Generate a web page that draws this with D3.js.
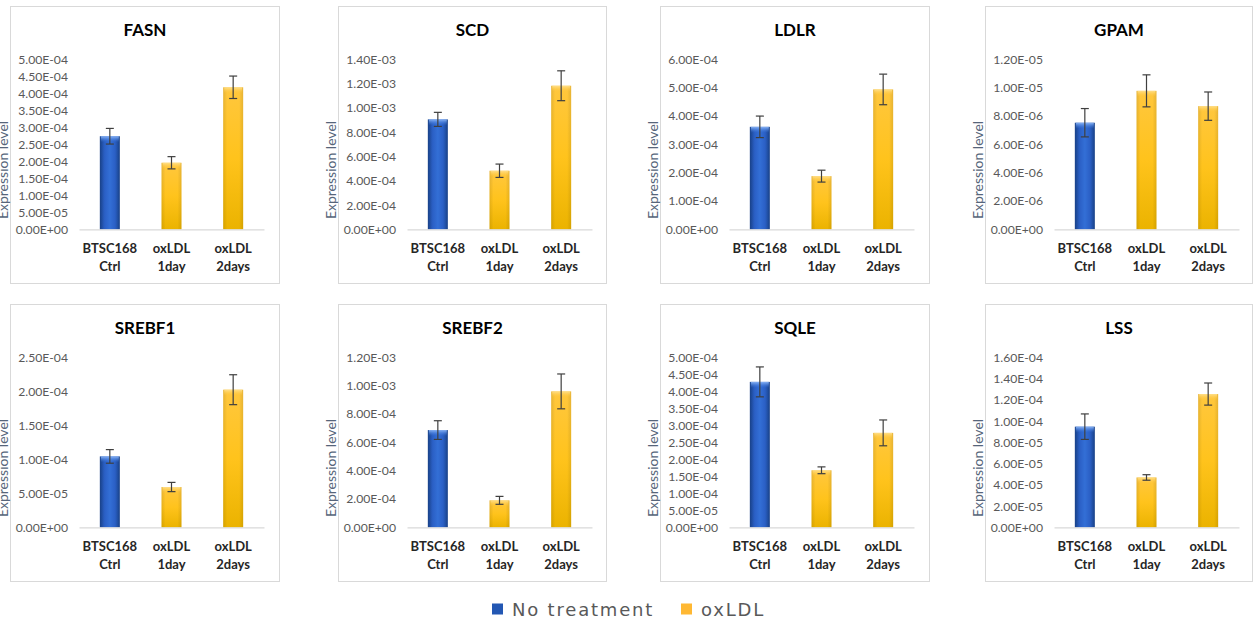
<!DOCTYPE html>
<html>
<head>
<meta charset="utf-8">
<script src="https://cdn.jsdelivr.net/npm/d3@7/dist/d3.min.js"></script>
<style>
  html, body { margin: 0; padding: 0; background: #ffffff; }
  svg { display: block; }
</style>
</head>
<body>
<svg id="chart" width="1254" height="623"></svg>
<script>
// Gene panels, in reading order (two rows of four)
const genes = ["FASN", "SCD", "LDLR", "GPAM", "SREBF1", "SREBF2", "SQLE", "LSS"];

// Sample groups on the x axis (two text lines each)
const groupLine1 = ["BTSC168", "oxLDL", "oxLDL"];
const groupLine2 = ["Ctrl", "1day", "2days"];
const groupSeries = ["No treatment", "oxLDL", "oxLDL"];

// Mean expression level per group
const fasnMean   = [2.74e-4, 1.96e-4, 4.18e-4];
const scdMean    = [9.06e-4, 4.83e-4, 1.183e-3];
const ldlrMean   = [3.62e-4, 1.88e-4, 4.94e-4];
const gpamMean   = [7.53e-6, 9.78e-6, 8.70e-6];
const srebf1Mean = [1.044e-4, 5.94e-5, 2.025e-4];
const srebf2Mean = [6.87e-4, 1.91e-4, 9.60e-4];
const sqleMean   = [4.28e-4, 1.68e-4, 2.78e-4];
const lssMean    = [9.48e-5, 4.70e-5, 1.255e-4];

// Error (± half-length of the error bar)
const fasnErr   = [2.3e-5, 1.8e-5, 3.3e-5];
const scdErr    = [5.8e-5, 5.5e-5, 1.23e-4];
const ldlrErr   = [3.8e-5, 2.1e-5, 5.4e-5];
const gpamErr   = [1.0e-6, 1.13e-6, 1.0e-6];
const srebf1Err = [1.0e-5, 6.8e-6, 2.2e-5];
const srebf2Err = [6.6e-5, 2.8e-5, 1.23e-4];
const sqleErr   = [4.4e-5, 1.0e-5, 3.8e-5];
const lssErr    = [1.2e-5, 2.6e-6, 1.04e-5];

// Y-axis extent and tick step per panel
const axisMax  = [5e-4, 1.4e-3, 6e-4, 1.2e-5, 2.5e-4, 1.2e-3, 5e-4, 1.6e-4];
const axisStep = [5e-5, 2e-4, 1e-4, 2e-6, 5e-5, 2e-4, 5e-5, 2e-5];

const legendLabels = ["No treatment", "oxLDL"];

const meanTable = [fasnMean, scdMean, ldlrMean, gpamMean, srebf1Mean, srebf2Mean, sqleMean, lssMean];
const errTable  = [fasnErr, scdErr, ldlrErr, gpamErr, srebf1Err, srebf2Err, sqleErr, lssErr];

// ---- layout ----
const panelLeft  = [10, 338, 660, 985];
const panelWidth = [270, 269, 270, 268];
const panelTop   = [6, 304];
const panelH = 277;
const plotLeft = 69, plotTop = 53.4, plotW = 185, plotH = 170;

const FONT = "Lato, 'Open Sans', sans-serif";
const svg = d3.select("#chart");

// Gradients for the bevelled bar look
const defs = svg.append("defs");
function hGrad(id, stops) {
  const g = defs.append("linearGradient").attr("id", id)
    .attr("x1", "0").attr("y1", "0").attr("x2", "1").attr("y2", "0");
  stops.forEach(([o, c, a]) => g.append("stop").attr("offset", o).attr("stop-color", c).attr("stop-opacity", a == null ? 1 : a));
}
function vGrad(id, stops) {
  const g = defs.append("linearGradient").attr("id", id)
    .attr("x1", "0").attr("y1", "0").attr("x2", "0").attr("y2", "1");
  stops.forEach(([o, c, a]) => g.append("stop").attr("offset", o).attr("stop-color", c).attr("stop-opacity", a == null ? 1 : a));
}
hGrad("blueBody", [["0", "#1b4896"], ["0.25", "#2b60c6"], ["0.5", "#336fd6"], ["0.75", "#2b60c6"], ["1", "#1b4896"]]);
vGrad("yellowBody", [["0", "#ffc73e"], ["0.5", "#ffc31c"], ["1", "#ebb300"]]);
hGrad("edgeShade", [["0", "#000", 0.10], ["0.2", "#000", 0.0], ["0.8", "#000", 0.0], ["1", "#000", 0.10]]);
vGrad("blueCap", [["0", "#8ab4f5"], ["1", "#3a76dc", 0]]);
vGrad("yellowCap", [["0", "#ffdf8a"], ["1", "#ffc73e", 0]]);

const seriesFill = { "No treatment": "url(#blueBody)", "oxLDL": "url(#yellowBody)" };
const seriesCap  = { "No treatment": "url(#blueCap)", "oxLDL": "url(#yellowCap)" };

function fmtE(v) {
  const [m, e] = v.toExponential(2).split("e");
  const n = +e;
  return m.toUpperCase() + "E" + (n < 0 ? "-" : "+") + String(Math.abs(n)).padStart(2, "0");
}

genes.forEach((gene, gi) => {
  const col = gi % 4, row = Math.floor(gi / 4);
  const px = panelLeft[col], py = panelTop[row], pw = panelWidth[col];
  const means = meanTable[gi], errs = errTable[gi];

  const panel = svg.append("g").attr("transform", `translate(${px},${py})`);

  // Panel frame
  panel.append("rect")
    .attr("x", 0.5).attr("y", 0.5).attr("width", pw - 1).attr("height", panelH)
    .attr("fill", "#ffffff").attr("stroke", "#d9d9d9").attr("stroke-width", 1);

  // Title
  panel.append("text")
    .attr("x", pw / 2).attr("y", 30)
    .attr("text-anchor", "middle")
    .attr("font-family", FONT).attr("font-weight", 700).attr("font-size", 17)
    .attr("fill", "#000000")
    .text(gene);

  const plot = panel.append("g").attr("transform", `translate(${plotLeft},${plotTop})`);

  const x = d3.scaleBand().domain(d3.range(groupLine1.length)).range([0, plotW])
    .paddingInner(0.676).paddingOuter(0.338);
  const y = d3.scaleLinear().domain([0, axisMax[gi]]).range([plotH, 0]);

  // Y axis (labels only)
  const tickVals = d3.range(0, axisMax[gi] + axisStep[gi] / 2, axisStep[gi]);
  const yAxis = plot.append("g")
    .call(d3.axisLeft(y).tickValues(tickVals).tickFormat(fmtE).tickSize(0).tickPadding(11));
  yAxis.select(".domain").remove();
  yAxis.selectAll("text")
    .attr("font-family", FONT).attr("font-size", 12.2).attr("fill", "#595959");

  // Bars
  const bars = plot.selectAll("g.bar").data(means).join("g").attr("class", "bar");
  bars.append("rect")
    .attr("x", (d, i) => x(i)).attr("width", x.bandwidth())
    .attr("y", d => y(d)).attr("height", d => plotH - y(d))
    .attr("fill", (d, i) => seriesFill[groupSeries[i]]);
  bars.append("rect")
    .attr("x", (d, i) => x(i)).attr("width", x.bandwidth())
    .attr("y", d => y(d)).attr("height", d => plotH - y(d))
    .attr("fill", "url(#edgeShade)");
  bars.append("rect")
    .attr("x", (d, i) => x(i) + 1).attr("width", x.bandwidth() - 2)
    .attr("y", d => y(d)).attr("height", d => Math.min(6, plotH - y(d)))
    .attr("fill", (d, i) => seriesCap[groupSeries[i]]);

  // X axis line
  const xAxis = plot.append("g").attr("transform", `translate(0,${plotH})`)
    .call(d3.axisBottom(x).tickSize(0).tickFormat(""));
  xAxis.select(".domain").attr("stroke", "#d9d9d9").attr("stroke-width", 1.2);

  // Error bars
  const eb = plot.selectAll("g.err").data(means).join("g").attr("class", "err")
    .attr("stroke", "#3f3f3f").attr("stroke-width", 1.2);
  const cx = i => x(i) + x.bandwidth() / 2;
  eb.append("line")
    .attr("x1", (d, i) => cx(i)).attr("x2", (d, i) => cx(i))
    .attr("y1", (d, i) => y(d + errs[i])).attr("y2", (d, i) => y(d - errs[i]));
  eb.append("line")
    .attr("x1", (d, i) => cx(i) - 4).attr("x2", (d, i) => cx(i) + 4)
    .attr("y1", (d, i) => y(d + errs[i])).attr("y2", (d, i) => y(d + errs[i]));
  eb.append("line")
    .attr("x1", (d, i) => cx(i) - 4).attr("x2", (d, i) => cx(i) + 4)
    .attr("y1", (d, i) => y(d - errs[i])).attr("y2", (d, i) => y(d - errs[i]));

  // Category labels (two lines, bold)
  const cats = plot.selectAll("text.cat").data(groupLine1).join("text").attr("class", "cat")
    .attr("text-anchor", "middle")
    .attr("font-family", FONT).attr("font-weight", 700).attr("font-size", 13)
    .attr("fill", "#262626");
  cats.append("tspan").attr("x", (d, i) => cx(i)).attr("y", plotH + 23.5).text(d => d);
  cats.append("tspan").attr("x", (d, i) => cx(i)).attr("y", plotH + 41.5).text((d, i) => groupLine2[i]);

  // Y-axis title, sitting just outside the frame
  panel.append("text")
    .attr("transform", `translate(-2.5,${164}) rotate(-90)`)
    .attr("text-anchor", "middle")
    .attr("font-family", FONT).attr("font-size", 14)
    .attr("fill", "#56657a")
    .text("Expression level");
});

// Legend
const legend = svg.append("g").attr("transform", "translate(492,609)");
const legendX = [0, 189];
const legendColor = ["#2357b3", "#ffb833"];
legendLabels.forEach((lab, i) => {
  const g = legend.append("g").attr("transform", `translate(${legendX[i]},0)`);
  g.append("rect").attr("x", 0).attr("y", -5.5).attr("width", 11).attr("height", 11).attr("fill", legendColor[i]);
  g.append("text").attr("x", 20).attr("y", 6.5)
    .attr("font-family", "'DejaVu Sans', sans-serif").attr("font-size", 18)
    .attr("letter-spacing", 1.8)
    .attr("fill", "#595959")
    .text(lab);
});
</script>
</body>
</html>
